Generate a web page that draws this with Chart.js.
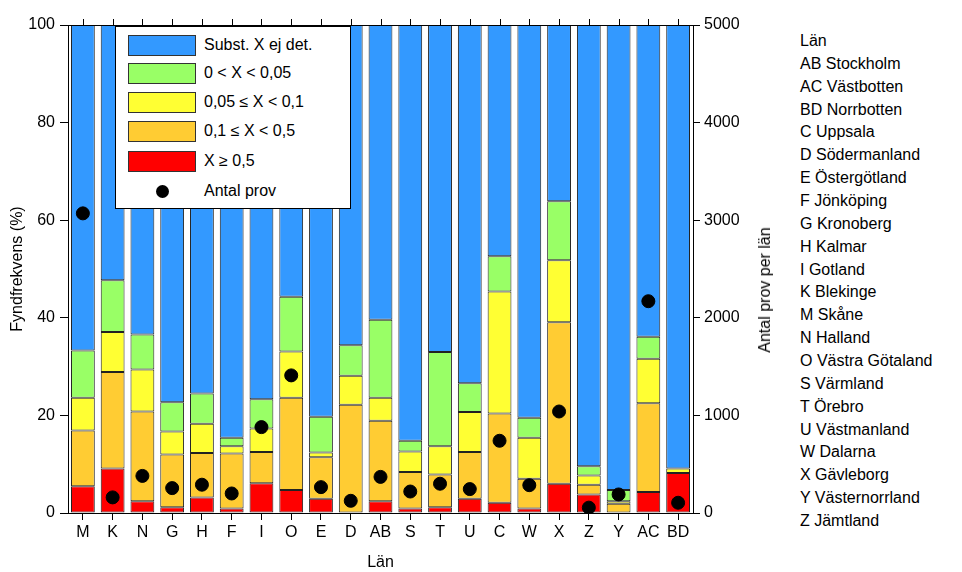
<!DOCTYPE html>
<html>
<head>
<meta charset="utf-8">
<script src="https://cdn.jsdelivr.net/npm/chart.js@4"></script>
<style>
  body { margin: 0; background: #fff; font-family: 'Liberation Sans', Arial, sans-serif; }
  #wrap { position: relative; width: 962px; height: 572px; }
  #box { position: absolute; left: 0; top: 0; width: 790px; height: 572px; }
  #legend {
    position: absolute; left: 115px; top: 26px; width: 234px; height: 181px;
    background: #fff; border: 1px solid #000; font-size: 16px; color: #000;
  }
  #legend .row { position: absolute; left: 12px; height: 21px; }
  #legend .sw { position: absolute; left: 0; top: 0; width: 66px; height: 19px; border: 1px solid #333; }
  #legend .lbl { position: absolute; left: 76px; top: 1px; white-space: nowrap; }
  #legend .dot { position: absolute; left: 28px; top: 4px; width: 13px; height: 13px; border-radius: 50%; background: #000; }
  #rtitle {
    position: absolute; left: 765px; top: 290px; font-size: 16px; color: #000; white-space: nowrap;
    transform: translate(-50%, -50%) rotate(-90deg);
  }
  #lanlist { position: absolute; left: 800px; top: 30px; font-size: 16px; line-height: 22.86px; color: #000; white-space: nowrap; }
</style>
</head>
<body>
<div id="wrap">
  <div id="box"><canvas id="chart"></canvas></div>
  <div id="legend"></div>
  <div id="rtitle">Antal prov per län</div>
  <div id="lanlist"></div>
</div>
<script>
const lan = ['M', 'K', 'N', 'G', 'H', 'F', 'I', 'O', 'E', 'D', 'AB', 'S', 'T', 'U', 'C', 'W', 'X', 'Z', 'Y', 'AC', 'BD'];

// andel prov (%) per klass
const red = [5.5, 9.1, 2.4, 1.2, 3.2, 0.9, 6.1, 4.7, 2.9, 0, 2.4, 0.9, 1.2, 2.9, 2.1, 0.9, 6.0, 3.8, 0, 4.3, 8.2];
const orange = [11.4, 19.8, 18.4, 10.8, 9.1, 11.3, 6.4, 18.9, 8.5, 22.2, 16.5, 7.5, 6.7, 9.6, 18.3, 6.1, 33.1, 2.0, 1.9, 18.2, 0];
const yellow = [6.7, 8.2, 8.6, 4.7, 6.0, 1.5, 4.8, 9.5, 1.0, 5.9, 4.7, 4.2, 5.8, 8.2, 25.0, 8.4, 12.7, 1.9, 0.5, 9.1, 0.9];
const green = [9.7, 10.6, 7.2, 6.0, 6.2, 1.7, 6.0, 11.2, 7.3, 6.3, 16.0, 2.2, 19.3, 5.9, 7.2, 4.1, 12.1, 1.9, 2.3, 4.5, 0];
const blue = [66.7, 52.3, 63.4, 77.3, 75.5, 84.6, 76.7, 55.7, 80.3, 65.6, 60.4, 85.2, 67.0, 73.4, 47.4, 80.5, 36.1, 90.4, 95.3, 63.9, 90.9];

const antalProv = [3070, 160, 380, 255, 290, 200, 880, 1410, 265, 125, 370, 220, 300, 245, 740, 285, 1040, 55, 190, 2170, 105];

const leftTicks = [0, 20, 40, 60, 80, 100];
const rightTicks = [0, 1000, 2000, 3000, 4000, 5000];

const lanNamn = ['Län', 'AB Stockholm', 'AC Västbotten', 'BD Norrbotten', 'C Uppsala', 'D Södermanland',
  'E Östergötland', 'F Jönköping', 'G Kronoberg', 'H Kalmar', 'I Gotland', 'K Blekinge', 'M Skåne',
  'N Halland', 'O Västra Götaland', 'S Värmland', 'T Örebro', 'U Västmanland', 'W Dalarna',
  'X Gävleborg', 'Y Västernorrland', 'Z Jämtland'];

const klasser = [
  { label: 'Subst. X ej det.', data: blue, color: '#3399FF' },
  { label: '0 < X < 0,05', data: green, color: '#99FF66' },
  { label: '0,05 ≤ X < 0,1', data: yellow, color: '#FFFF33' },
  { label: '0,1 ≤ X < 0,5', data: orange, color: '#FFCC33' },
  { label: 'X ≥ 0,5', data: red, color: '#FF0000' },
];

Chart.defaults.font.family = "'Liberation Sans', Arial, sans-serif";
Chart.defaults.font.size = 16;
Chart.defaults.color = '#000';

// top frame line with tick marks at each category
const topFrame = {
  id: 'topFrame',
  afterDraw(chart) {
    const { ctx, chartArea: { left, top, right } } = chart;
    const x = chart.scales.x;
    ctx.save();
    ctx.strokeStyle = '#000';
    ctx.lineWidth = 1;
    ctx.beginPath();
    ctx.moveTo(left, top + 0.5);
    ctx.lineTo(right, top + 0.5);
    lan.forEach((l, i) => {
      const px = Math.round(x.getPixelForValue(i)) + 0.5;
      ctx.moveTo(px, top);
      ctx.lineTo(px, top - 6);
    });
    ctx.stroke();
    ctx.restore();
  },
};

const barSets = klasser.slice().reverse().map((k) => ({
  type: 'bar',
  label: k.label,
  data: k.data,
  backgroundColor: k.color,
  borderColor: '#222',
  borderWidth: 1,
  borderSkipped: false,
  barPercentage: 0.8,
  categoryPercentage: 1,
  stack: 'andel',
  yAxisID: 'y',
  order: 2,
}));

// eslint-disable-next-line no-unused-vars
const myChart = new Chart(document.getElementById('chart'), {
  data: {
    labels: lan,
    datasets: [
      ...barSets,
      {
        type: 'line',
        label: 'Antal prov',
        data: antalProv,
        showLine: false,
        pointRadius: 6.5,
        pointBackgroundColor: '#000',
        pointBorderColor: '#000',
        yAxisID: 'y2',
        order: 0,
      },
    ],
  },
  options: {
    responsive: true,
    maintainAspectRatio: false,
    animation: false,
    events: [],
    layout: { padding: { left: 0, right: 0, top: 25, bottom: 0 } },
    plugins: { legend: { display: false }, tooltip: { enabled: false } },
    scales: {
      x: {
        stacked: true,
        grid: { display: true, drawOnChartArea: false, offset: false, color: '#000', tickLength: 7 },
        border: { color: '#000' },
        ticks: { autoSkip: false, maxRotation: 0, padding: 3 },
        title: { display: true, text: 'Län', padding: 0 },
        afterFit: (s) => { s.height = 59; },
      },
      y: {
        stacked: true,
        min: 0,
        max: 100,
        afterBuildTicks: (s) => { s.ticks = leftTicks.map((v) => ({ value: v })); },
        grid: { drawOnChartArea: false, color: '#000', tickLength: 8 },
        border: { color: '#000' },
        ticks: { padding: 5 },
        title: { display: true, text: 'Fyndfrekvens (%)', padding: { top: 8, bottom: 0 } },
        afterFit: (s) => { s.width = 68; },
      },
      y2: {
        position: 'right',
        min: 0,
        max: 5000,
        afterBuildTicks: (s) => { s.ticks = rightTicks.map((v) => ({ value: v })); },
        grid: { drawOnChartArea: false, color: '#000', tickLength: 7 },
        border: { color: '#000' },
        ticks: { padding: 4, callback: (value) => String(value) },
        afterFit: (s) => { s.width = 97; },
      },
    },
  },
  plugins: [topFrame],
});

// legend box
const legend = document.getElementById('legend');
const rowTops = [8, 36, 65, 94, 124];
klasser.forEach((k, i) => {
  legend.insertAdjacentHTML('beforeend',
    `<div class="row" style="top:${rowTops[i]}px"><div class="sw" style="background:${k.color}"></div><div class="lbl">${k.label}</div></div>`);
});
legend.insertAdjacentHTML('beforeend',
  '<div class="row" style="top:154px"><div class="dot"></div><div class="lbl">Antal prov</div></div>');

document.getElementById('lanlist').innerHTML = lanNamn.join('<br>');
</script>
</body>
</html>
